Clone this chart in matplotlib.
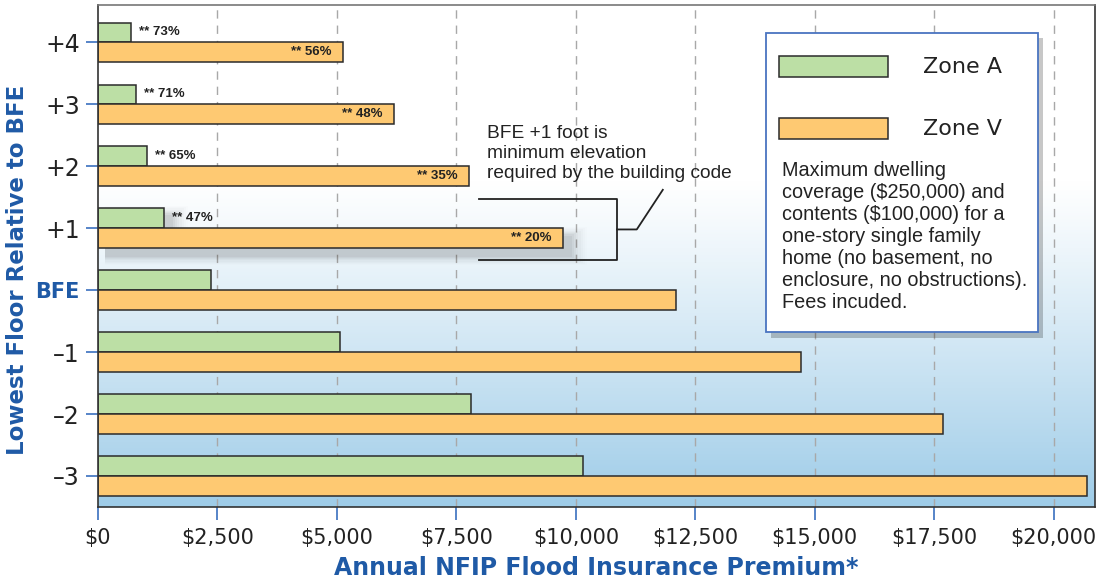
import numpy as np
import matplotlib.pyplot as plt
from matplotlib.patches import Rectangle

# data
floors = ["+4", "+3", "+2", "+1", "BFE", "\u20131", "\u20132", "\u20133"]
zone_a = [690, 795, 1025, 1380, 2365, 5060, 7800, 10150]
zone_v = [5125, 6190, 7760, 9730, 12090, 14710, 17680, 20690]
savings_a = ["** 73%", "** 71%", "** 65%", "** 47%", "", "", "", ""]
savings_v = ["** 56%", "** 48%", "** 35%", "** 20%", "", "", "", ""]
xticks = [0, 2500, 5000, 7500, 10000, 12500, 15000, 17500, 20000]
xtick_labels = ["$0", "$2,500", "$5,000", "$7,500", "$10,000", "$12,500",
                "$15,000", "$17,500", "$20,000"]

green = "#bcdfa5"
orange = "#fec972"
blue = "#1f5aa6"
edge = "#2b2b2b"
helv = ["Liberation Sans", "DejaVu Sans"]

fig = plt.figure(figsize=(10.97, 5.82), dpi=100)
ax = fig.add_axes([0.0893, 0.129, 0.9087, 0.862])

xmax = 20860
ax.set_xlim(0, xmax)
ax.set_ylim(-0.5, 7.6)

# background gradient (white at top, light blue at bottom)
grad = np.linspace(0, 1, 256).reshape(-1, 1)
top = np.array([1.0, 1.0, 1.0])
bot = np.array([0.62, 0.80, 0.91])
w = np.clip((grad - 0.35) / 0.65, 0, 1) ** 1.1
img = top * (1 - w) + bot * w
ax.imshow(img.reshape(256, 1, 3), extent=[0, xmax, -0.5, 7.6], aspect="auto",
          origin="upper", zorder=0)

for xv in xticks[1:]:
    ax.axvline(xv, color="#a8a8a8", lw=1, ls=(0, (6, 5)), zorder=1)

n = len(floors)
ypos = np.arange(n)[::-1]
h = 0.32

# soft drop shadow behind the +1 bars
i1 = floors.index("+1")
for k in range(8):
    a = 0.035 - k * 0.004
    grow = k * 0.02
    ax.add_patch(Rectangle((150, ypos[i1] - h - 0.14 - grow), zone_v[i1] + 40 + k * 45, h + 0.02 + 2 * grow,
                           facecolor="black", alpha=a, lw=0, zorder=1.5))
    ax.add_patch(Rectangle((150, ypos[i1] - 0.1 - grow), zone_a[i1] + 40 + k * 45, h + 2 * grow,
                           facecolor="black", alpha=a, lw=0, zorder=1.5))

ax.barh(ypos + h / 2, zone_a, height=h, color=green, edgecolor=edge, lw=1.1, zorder=2)
ax.barh(ypos - h / 2, zone_v, height=h, color=orange, edgecolor=edge, lw=1.1, zorder=2)

for i in range(n):
    if savings_a[i]:
        ax.text(zone_a[i] + 170, ypos[i] + h / 2, savings_a[i], fontsize=9.5, family=helv,
                fontweight="bold", color="#222", va="center", ha="left", zorder=3)
    if savings_v[i]:
        ax.text(zone_v[i] - 230, ypos[i] - h / 2, savings_v[i], fontsize=9.5, family=helv,
                fontweight="bold", color="#222", va="center", ha="right", zorder=3)

# bracket annotation
yb_top, yb_bot, yb_mid = 4.47, 3.48, 3.98
ax.plot([7970, 10860, 10860, 7970], [yb_top, yb_top, yb_bot, yb_bot],
        color="#222", lw=1.3, zorder=3)
ax.plot([10860, 11275, 11820], [yb_mid, yb_mid, 4.62], color="#222", lw=1.3, zorder=3)
ax.text(8150, 5.66, "BFE +1 foot is\nminimum elevation\nrequired by the building code",
        fontsize=13.8, family=helv, color="#222", va="top", ha="left", linespacing=1.2,
        zorder=3)

# axes styling
ax.set_xticks(xticks)
ax.set_xticklabels(xtick_labels, fontsize=15, color="#222")
ax.set_yticks(ypos)
ax.set_yticklabels(floors, fontsize=17, color="#222")
ax.tick_params(axis="both", colors="#3a6fbf", length=9, width=1.2, labelcolor="#222")
ax.tick_params(axis="x", pad=6)
ax.tick_params(axis="y", pad=4)
for lab in ax.get_yticklabels():
    if lab.get_text() == "BFE":
        lab.set_color(blue)
        lab.set_fontweight("bold")
        lab.set_fontsize(15)
for s in ["left", "bottom", "right", "top"]:
    ax.spines[s].set_color("#333")
    ax.spines[s].set_linewidth(1.2)
ax.spines["top"].set_color("#777")

ax.set_xlabel("Annual NFIP Flood Insurance Premium*", fontsize=17, fontweight="bold",
              color=blue, labelpad=6)
fig.text(18 / 1097, 1 - 270 / 582, "Lowest Floor Relative to BFE", fontsize=16.5,
         fontweight="bold", color=blue, rotation=90, ha="center", va="center")


# legend box in figure pixel coords
def fx(px):
    return px / 1097


def fy(py):
    return 1 - py / 582


shadow = Rectangle((fx(771), fy(338)), fx(1043) - fx(771), fy(38) - fy(338),
                   transform=fig.transFigure, facecolor="black", alpha=0.22, lw=0, zorder=4)
fig.add_artist(shadow)
box = Rectangle((fx(766), fy(332)), fx(1038) - fx(766), fy(33) - fy(332),
                transform=fig.transFigure, facecolor="white", edgecolor="#4a74c0",
                lw=1.3, zorder=5)
fig.add_artist(box)
for ytop, col, name in [(56, green, "Zone A"), (118, orange, "Zone V")]:
    fig.add_artist(Rectangle((fx(779), fy(ytop + 21)), fx(888) - fx(779), fy(ytop) - fy(ytop + 21),
                             transform=fig.transFigure, facecolor=col, edgecolor=edge,
                             lw=1.1, zorder=6))
    fig.text(fx(923), fy(ytop + 11), name, fontsize=16, color="#222", va="center",
             ha="left", zorder=6)
fig.text(fx(782), fy(161),
         "Maximum dwelling\ncoverage ($250,000) and\ncontents ($100,000) for a\n"
         "one-story single family\nhome (no basement, no\nenclosure, no obstructions).\n"
         "Fees incuded.",
         fontsize=14.3, family=helv, color="#222", va="top", ha="left", linespacing=1.2,
         zorder=6)

fig.savefig("out.png", dpi=100)
